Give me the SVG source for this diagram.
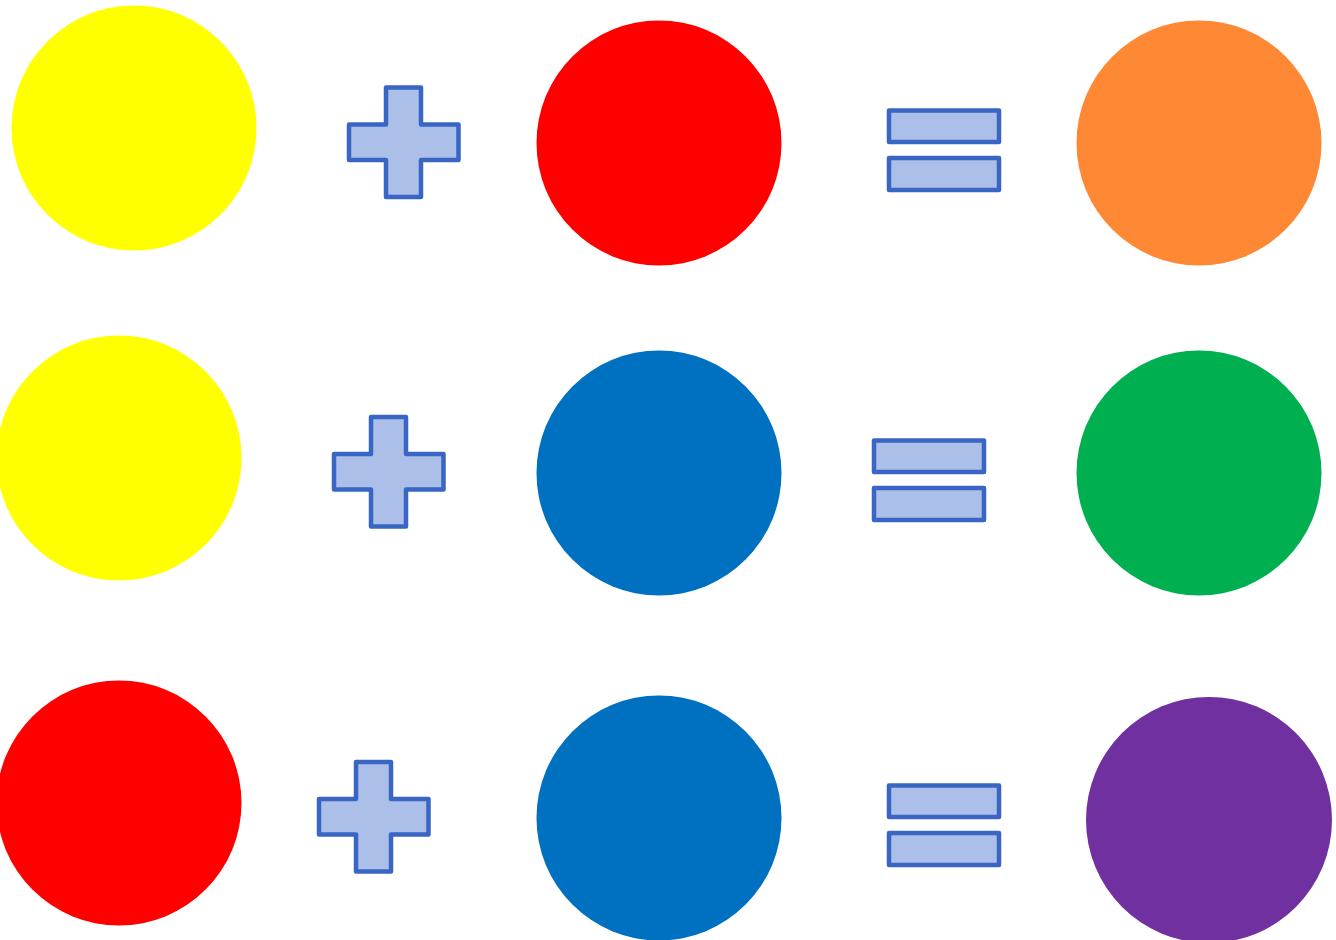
<svg xmlns="http://www.w3.org/2000/svg" width="1336" height="940" viewBox="0 0 1336 940">
<style>
.op{fill:#ABBFE9;stroke:#3966C4;stroke-width:4.5;stroke-linejoin:round}
</style>
<defs>
<path id="plus" d="M37 0H72V37H109.5V72.5H72V109.5H37V72.5H0V37H37Z"/>
</defs>
<rect width="1336" height="940" fill="#fff"/>
<g id="row1">
<circle id="c-yellow1" cx="134" cy="128" r="122.5" fill="#FFFF00"/>
<use id="plus1" href="#plus" class="op" x="349" y="87.5"/>
<circle id="c-red1" cx="659" cy="143" r="122.5" fill="#FF0000"/>
<g id="eq1" class="op"><rect x="889" y="110.5" width="110" height="31.5"/><rect x="889" y="158" width="110" height="32"/></g>
<circle id="c-orange" cx="1199" cy="143" r="122.5" fill="#FF8835"/>
</g>
<g id="row2">
<circle id="c-yellow2" cx="119" cy="458" r="122.5" fill="#FFFF00"/>
<use id="plus2" href="#plus" class="op" x="334" y="417"/>
<circle id="c-blue1" cx="659" cy="473" r="122.5" fill="#0070C0"/>
<g id="eq2" class="op"><rect x="874" y="440.5" width="110" height="31.5"/><rect x="874" y="488" width="110" height="32"/></g>
<circle id="c-green" cx="1199" cy="473" r="122.5" fill="#00B050"/>
</g>
<g id="row3">
<circle id="c-red2" cx="119" cy="803" r="122.5" fill="#FF0000"/>
<use id="plus3" href="#plus" class="op" x="319" y="762"/>
<circle id="c-blue2" cx="659" cy="818" r="122.5" fill="#0070C0"/>
<g id="eq3" class="op"><rect x="889" y="785.5" width="110" height="31.5"/><rect x="889" y="833" width="110" height="32"/></g>
<circle id="c-purple" cx="1209" cy="820" r="123" fill="#7030A0"/>
</g>
<g id="connectors"/>
</svg>
